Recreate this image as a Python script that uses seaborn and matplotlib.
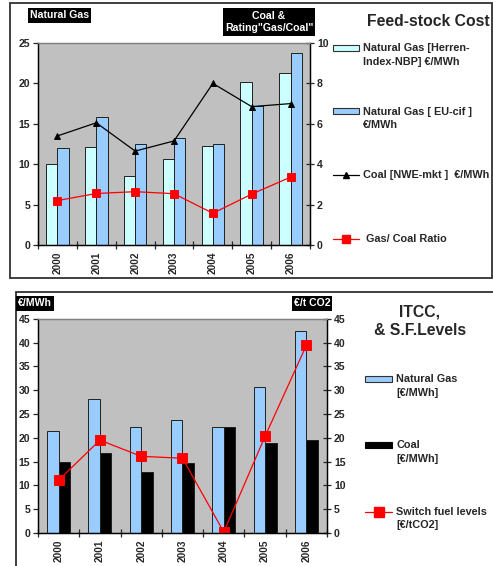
import numpy as np
import pandas as pd
import matplotlib
matplotlib.use("Agg")
import matplotlib.pyplot as plt
from matplotlib.patches import Rectangle, Patch
from matplotlib.lines import Line2D
from matplotlib.legend_handler import HandlerPatch, HandlerLine2D
import seaborn as sns

# ---- data -------------------------------------------------------------
years = ["2000", "2001", "2002", "2003", "2004", "2005", "2006"]

# Feed-stock cost panel
gas_herren = [10.0, 12.1, 8.5, 10.7, 12.2, 20.2, 21.3]      # €/MWh
gas_eucif = [12.0, 15.8, 12.5, 13.2, 12.5, 17.2, 23.8]      # €/MWh
coal_nwe = [5.4, 6.05, 4.65, 5.15, 8.0, 6.85, 7.0]          # €/MWh (right axis)
gas_coal_ratio = [2.2, 2.55, 2.64, 2.54, 1.57, 2.52, 3.36]  # right axis

# ITCC panel
itcc_gas = [21.5, 28.2, 22.3, 23.7, 22.3, 30.7, 42.4]       # €/MWh
itcc_coal = [15.0, 16.9, 12.9, 14.6, 22.3, 19.0, 19.6]      # €/MWh
switch_fuel = [11.1, 19.5, 16.1, 15.7, 0.2, 20.3, 39.4]     # €/tCO2

top_labels = ["Natural Gas [Herren-\nIndex-NBP] €/MWh",
              "Natural Gas [ EU-cif ]\n€/MWh",
              "Coal [NWE-mkt ]  €/MWh\n",
              " Gas/ Coal Ratio\n"]
bottom_labels = ["Natural Gas\n[€/MWh]", "Coal\n[€/MWh]",
                 "Switch fuel levels\n[€/tCO2]"]

# ---- style ------------------------------------------------------------
CYAN = "#CCFFFF"
BLUE = "#99CCFF"
GRAY = "#C0C0C0"
RED = "#FF0000"

sns.set_style("white")
plt.rcParams["font.family"] = ["Liberation Sans", "DejaVu Sans"]
plt.rcParams["font.weight"] = "bold"

W, H = 493, 566
fig = plt.figure(figsize=(W / 100, H / 100), dpi=100)


def fx(x):
    return x / W


def fy(y):
    return 1 - y / H


class FirstLinePatch(HandlerPatch):
    """Patch handle aligned with the first line of a two-line label."""
    def __init__(self, lift, **kw):
        super().__init__(**kw)
        self.lift = lift

    def create_artists(self, legend, orig_handle, xdescent, ydescent,
                       width, height, fontsize, trans):
        arts = super().create_artists(legend, orig_handle, xdescent, ydescent,
                                      width, height, fontsize, trans)
        for a in arts:
            a.set_y(a.get_y() + self.lift * fontsize)
        return arts


class FirstLineLine(HandlerLine2D):
    """Line handle aligned with the first line of a two-line label."""
    def __init__(self, lift, **kw):
        super().__init__(**kw)
        self.lift = lift

    def create_artists(self, legend, orig_handle, xdescent, ydescent,
                       width, height, fontsize, trans):
        arts = super().create_artists(legend, orig_handle, xdescent, ydescent,
                                      width, height, fontsize, trans)
        for a in arts:
            a.set_ydata(np.asarray(a.get_ydata(), dtype=float) + self.lift * fontsize)
        return arts


def grouped_bars(ax, a, b, names, colors, width):
    df = pd.DataFrame({
        "year": years * 2,
        "series": [names[0]] * len(years) + [names[1]] * len(years),
        "value": list(a) + list(b),
    })
    sns.barplot(data=df, x="year", y="value", hue="series", hue_order=names,
                palette=colors, width=width, saturation=1, errorbar=None,
                edgecolor="#202020", linewidth=0.7, legend=False, ax=ax)


def style_axes(ax, ax2, lmax, lstep, rmax, rstep):
    ax.set_xlim(-0.5, len(years) - 0.5)
    ax.set_ylim(0, lmax)
    ax.set_yticks(np.arange(0, lmax + 0.1, lstep))
    ax2.set_ylim(0, rmax)
    ax2.set_yticks(np.arange(0, rmax + 0.1, rstep))
    ax.set_facecolor(GRAY)
    for a in (ax, ax2):
        a.set_xlabel("")
        a.set_ylabel("")
        a.grid(False)
        a.spines["top"].set_color("#808080")
        a.spines["left"].set_color("black")
        a.spines["bottom"].set_color("black")
        a.spines["right"].set_color("black")
        for s in a.spines.values():
            s.set_linewidth(0.9)
    ax.tick_params(axis="y", direction="out", length=3.5, width=0.9,
                   labelsize=7.6, pad=2, left=True, right=False)
    ax2.tick_params(axis="y", direction="inout", length=6, width=0.9,
                    labelsize=7.6, pad=2)
    ax.set_xticks(range(len(years)))
    ax.set_xticklabels(years, rotation=90, fontsize=7.2, fontweight="bold")
    ax.tick_params(axis="x", which="major", length=0, pad=5)
    ax.set_xticks(np.arange(-0.5, len(years), 1), minor=True)
    ax.tick_params(axis="x", which="minor", direction="inout", length=6,
                   width=0.9, bottom=True)
    for t in ax.get_yticklabels() + ax2.get_yticklabels():
        t.set_fontweight("bold")


def black_tag(x, y, text, ha="center"):
    fig.text(fx(x), fy(y), text, color="white", fontsize=7.6, fontweight="bold",
             ha=ha, va="center", multialignment="center", linespacing=1.35,
             bbox=dict(facecolor="black", edgecolor="none", pad=1.6))


# ---- frames -----------------------------------------------------------
fig.add_artist(Rectangle((fx(10), fy(278)), (492 - 10) / W, (278 - 3) / H,
                         transform=fig.transFigure, fill=False,
                         edgecolor="#303030", linewidth=1.3))
fig.add_artist(Rectangle((fx(16), -0.2), 1.0, fy(292) + 0.2,
                         transform=fig.transFigure, fill=False,
                         edgecolor="#303030", linewidth=1.3))

# ---- top panel: feed-stock cost ---------------------------------------
ax = fig.add_axes([fx(38), fy(245), (310 - 38) / W, (245 - 43) / H])
grouped_bars(ax, gas_herren, gas_eucif, top_labels[:2], [CYAN, BLUE], 0.58)
ax2 = ax.twinx()
sns.pointplot(x=years, y=coal_nwe, ax=ax2, color="black", marker="^",
              markersize=4.5, linewidth=0.9, errorbar=None)
sns.pointplot(x=years, y=gas_coal_ratio, ax=ax2, color=RED, marker="s",
              markersize=6, linewidth=0.9, errorbar=None)
style_axes(ax, ax2, 25, 5, 10, 2)

black_tag(59.5, 15.5, "Natural Gas")
black_tag(269, 22, "Coal &\nRating\"Gas/Coal\"")
fig.text(fx(428), fy(21), "Feed-stock Cost", fontsize=11.3, fontweight="bold",
         ha="center", va="center")

th = [Patch(facecolor=CYAN, edgecolor="#303030", linewidth=0.8),
      Patch(facecolor=BLUE, edgecolor="#303030", linewidth=0.8),
      Line2D([], [], color="black", marker="^", markersize=4.5, linewidth=0.9),
      Line2D([], [], color=RED, marker="s", markersize=6, linewidth=0.9)]
lift = 0.67
leg = fig.legend(th, top_labels, loc="upper left",
                 bbox_to_anchor=(fx(333), fy(43)), bbox_transform=fig.transFigure,
                 frameon=False, borderpad=0, borderaxespad=0, handlelength=2.4,
                 handleheight=0.5, handletextpad=0.4, labelspacing=3.7,
                 prop=dict(size=7.8, weight="bold"),
                 handler_map={th[0]: FirstLinePatch(lift), th[1]: FirstLinePatch(lift),
                              th[2]: FirstLineLine(lift), th[3]: FirstLineLine(lift)})
for t in leg.get_texts():
    t.set_linespacing(1.45)

# ---- bottom panel: ITCC & switch fuel levels --------------------------
bx = fig.add_axes([fx(38), fy(533), (327 - 38) / W, (533 - 318.7) / H])
grouped_bars(bx, itcc_gas, itcc_coal, bottom_labels[:2], [BLUE, "black"], 0.56)
bx2 = bx.twinx()
sns.pointplot(x=years, y=switch_fuel, ax=bx2, color=RED, marker="s",
              markersize=6.5, linewidth=0.9, errorbar=None)
style_axes(bx, bx2, 45, 5, 45, 5)

black_tag(35, 303.5, "€/MWh")
black_tag(312, 303.5, "€/t CO2")
fig.text(fx(420), fy(321), "ITCC,\n& S.F.Levels", fontsize=11.3,
         fontweight="bold", ha="center", va="center", multialignment="center",
         linespacing=1.3)

bh = [Patch(facecolor=BLUE, edgecolor="#303030", linewidth=0.8),
      Patch(facecolor="black", edgecolor="black", linewidth=0.8),
      Line2D([], [], color=RED, marker="s", markersize=6.5, linewidth=0.9)]
leg2 = fig.legend(bh, bottom_labels, loc="upper left",
                  bbox_to_anchor=(fx(365), fy(374)), bbox_transform=fig.transFigure,
                  frameon=False, borderpad=0, borderaxespad=0, handlelength=2.5,
                  handleheight=0.5, handletextpad=0.4, labelspacing=3.95,
                  prop=dict(size=7.8, weight="bold"),
                  handler_map={bh[0]: FirstLinePatch(lift), bh[1]: FirstLinePatch(lift),
                               bh[2]: FirstLineLine(lift)})
for t in leg2.get_texts():
    t.set_linespacing(1.45)

fig.savefig("out.png", dpi=100)
